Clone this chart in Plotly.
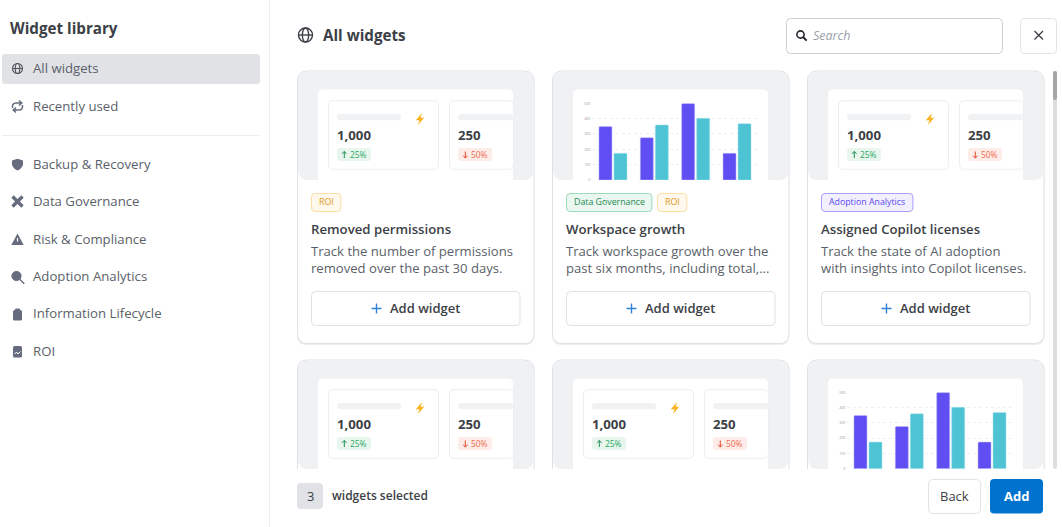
import plotly.graph_objects as go

group_x = [0, 1, 2, 3]
purple_values = [348, 276, 498, 174]
teal_values = [174, 359, 402, 367]
y_ticks = [0, 100, 200, 300, 400, 500]

nav_top = ["All widgets", "Recently used"]
nav_categories = ["Backup & Recovery", "Data Governance", "Risk & Compliance",
                  "Adoption Analytics", "Information Lifecycle", "ROI"]
card_titles = ["Removed permissions", "Workspace growth", "Assigned Copilot licenses"]
card_lines = [
    ["Track the number of permissions", "removed over the past 30 days."],
    ["Track workspace growth over the", "past six months, including total,..."],
    ["Track the state of AI adoption", "with insights into Copilot licenses."],
]
card_tags = [["ROI"], ["Data Governance", "ROI"], ["Adoption Analytics"]]
kpi_main = "1,000"
kpi_second = "250"
kpi_up = "25%"
kpi_down = "50%"

W, H = 1062, 527
FONT = "Open Sans"
TEXT = "#3c3f46"
GREY = "#5a5f69"
ICON = "#666c7e"
PURPLE = "#5F4FF2"
TEAL = "#4DC3D4"

TAG_STYLE = {
    "ROI": ("#FFF8EC", "#FBDFA6", "#DD9A1A", 29.4),
    "Data Governance": ("#EBF7F1", "#9ADBB9", "#1E8A50", 85.4),
    "Adoption Analytics": ("#F2F0FF", "#A99EFB", "#5C49F0", 91.4),
}

shapes = []
notes = []


def rrect(x0, y0, x1, y1, r=4, fill="white", line=None, lw=1):
    path = (f"M{x0+r},{y0} L{x1-r},{y0} Q{x1},{y0} {x1},{y0+r} L{x1},{y1-r} Q{x1},{y1} {x1-r},{y1} "
            f"L{x0+r},{y1} Q{x0},{y1} {x0},{y1-r} L{x0},{y0+r} Q{x0},{y0} {x0+r},{y0} Z")
    shapes.append(dict(type="path", path=path, xref="x", yref="y", layer="below",
                       fillcolor=fill, line=dict(color=line or "rgba(0,0,0,0)", width=lw if line else 0)))


def path(d, fill=None, line=None, lw=1):
    shapes.append(dict(type="path", path=d, xref="x", yref="y", layer="below",
                       fillcolor=fill or "rgba(0,0,0,0)",
                       line=dict(color=line or "rgba(0,0,0,0)", width=lw if line else 0)))


def circle(cx, cy, rx, ry=None, fill=None, line=None, lw=1):
    ry = rx if ry is None else ry
    shapes.append(dict(type="circle", x0=cx-rx, x1=cx+rx, y0=cy-ry, y1=cy+ry, xref="x", yref="y",
                       layer="below", fillcolor=fill or "rgba(0,0,0,0)",
                       line=dict(color=line or "rgba(0,0,0,0)", width=lw if line else 0)))


def text(x, y, s, size=13, color=TEXT, weight=400, anchor="left", style="normal"):
    notes.append(dict(x=x, y=y, text=s, xref="x", yref="y", showarrow=False, xanchor=anchor, yanchor="middle",
                      borderpad=0, borderwidth=0,
                      font=dict(family=FONT, size=size, color=color, weight=weight, style=style)))


def globe(cx, cy, r, color, lw):
    circle(cx, cy, r, line=color, lw=lw)
    circle(cx, cy, r * 0.45, r, line=color, lw=lw)
    path(f"M{cx-r},{cy} L{cx+r},{cy}", line=color, lw=lw)


def magnifier(cx, cy, r, color, lw, fill=None):
    circle(cx, cy, r, line=color, lw=lw, fill=fill)
    path(f"M{cx+r*0.7},{cy+r*0.7} L{cx+r*1.7},{cy+r*1.7}", line=color, lw=lw + 0.4)


def bolt(cx, cy):
    path(f"M{cx+2},{cy-6} L{cx-4.2},{cy+1.2} L{cx-0.6},{cy+1.2} L{cx-2},{cy+6} "
         f"L{cx+4.2},{cy-1.2} L{cx+0.6},{cy-1.2} Z", fill="#F9B11F")


def kpi_preview(cx, cy):
    rrect(cx+31, cy+29.7, cx+141, cy+98.3, 5, "white", "#ECEEF1")
    rrect(cx+152, cy+29.7, cx+216, cy+98.3, 5, "white", "#ECEEF1")
    rrect(cx+39.5, cy+43, cx+103.5, cy+49.3, 3, "#F1F2F4")
    rrect(cx+160.5, cy+43, cx+216, cy+49.3, 3, "#F1F2F4")
    bolt(cx+122.5, cy+48)
    rrect(cx+39.5, cy+77, cx+73.5, cy+90, 3, "#E8F6EE")
    rrect(cx+160.5, cy+77, cx+194.5, cy+90, 3, "#FDECE8")
    text(cx+39.5, cy+64, kpi_main, 13.2, TEXT, 700)
    text(cx+160.5, cy+64, kpi_second, 13.2, TEXT, 700)
    path(f"M{cx+46.8},{cy+87} L{cx+46.8},{cy+80.5} M{cx+44.6},{cy+82.8} L{cx+46.8},{cy+80.4} L{cx+49},{cy+82.8}",
         line="#1F8F55", lw=1)
    path(f"M{cx+167.8},{cy+80.5} L{cx+167.8},{cy+87} M{cx+165.6},{cy+84.7} L{cx+167.8},{cy+87.1} L{cx+170},{cy+84.7}",
         line="#E8492E", lw=1)
    text(cx+52.5, cy+83.2, kpi_up, 8.4, "#2AA864")
    text(cx+173.5, cy+83.2, kpi_down, 8.4, "#EE6A4D")


def card_frame(cx, cy):
    rrect(cx-0.5, cy+1, cx+237, cy+274, 10, "#ECEDEF")
    rrect(cx, cy, cx+236.5, cy+272.5, 10, "white", "#DFE1E6")
    rrect(cx+0.5, cy+0.5, cx+236, cy+109, 10, "#F0F1F3")
    rrect(cx+20.5, cy+18.5, cx+215.5, cy+130, 5, "white")


def card_body(cx, cy, i):
    tx = cx + 14
    for tag in card_tags[i]:
        fill, border, color, w = TAG_STYLE[tag]
        rrect(tx, cy+122.5, tx+w, cy+140.5, 3.5, fill, border)
        text(tx+w/2, cy+131.2, tag, 8.8, color, anchor="center")
        tx += w + 5.6
    text(cx+13.3, cy+158, card_titles[i], 13.2, TEXT, 600)
    text(cx+13.3, cy+180, card_lines[i][0], 13.1, GREY)
    text(cx+13.3, cy+197, card_lines[i][1], 13.1, GREY)
    rrect(cx+14, cy+220.5, cx+222.5, cy+254.5, 4, "white", "#DFE1E6")
    path(f"M{cx+74},{cy+237.5} L{cx+84},{cy+237.5} M{cx+79},{cy+232.5} L{cx+79},{cy+242.5}",
         line="#2F80D8", lw=1.4)
    text(cx+92.3, cy+236.8, "Add widget", 13, TEXT, 600)


# sidebar
path(f"M269.5,0 L269.5,{H}", line="#EFEFF1")
text(10, 28, "Widget library", 15.2, TEXT, 700)
rrect(2, 54, 260, 84, 3, "#E1E2E6")
path("M2,135.5 L260,135.5", line="#EEEEF0")
for label, y in zip(nav_top, [67.8, 105.8]):
    text(32.7, y, label, 13.2, GREY)
for label, y in zip(nav_categories, [163.8, 200.8, 238.8, 275.8, 312.8, 350.8]):
    text(32.7, y, label, 13.2, GREY)

globe(17.5, 68.5, 5, "#50545f", 1.1)
path("M12.5,108 Q12,103 16,103 L21,103 M19,100.5 L21.8,103 L19,105.5 M22.5,105 Q23,110 19,110 L14,110 "
     "M16,107.5 L13.2,110 L16,112.5", line=ICON, lw=1.5)
path("M12,160.5 L17.5,158.8 L23,160.5 L23,164.5 Q22,168.5 17.5,170.5 Q13,168.5 12,164.5 Z", fill=ICON)
path("M12.5,196.5 L22.5,206.5 M22.5,196.5 L12.5,206.5", line=ICON, lw=3.4)
path("M17.5,233.5 L23.7,245 L11.3,245 Z", fill=ICON)
path("M17.5,238 L17.5,241.5", line="white", lw=1.2)
magnifier(16.5, 276, 4.6, ICON, 1, fill=ICON)
rrect(13, 310, 22, 320.5, 1.5, ICON)
rrect(15, 308.5, 20, 312, 1, ICON)
rrect(13, 346, 22, 357.5, 1.5, ICON)
path("M14.5,354 L16.5,352 L18,354 L20.5,351.5", line="white", lw=1)

# cards
card_x = [297.5, 552.5, 807.5]
card_y = [71, 360]
for row, cy in enumerate(card_y):
    for col, cx in enumerate(card_x):
        card_frame(cx, cy)
        if row == 0:
            card_body(cx, cy, col)
kpi_preview(card_x[0], card_y[0])
kpi_preview(card_x[2], card_y[0])
kpi_preview(card_x[0], card_y[1])
kpi_preview(card_x[1], card_y[1])

# footer + header sit on top of the scrolling list
rrect(270.5, 469, W, H, 0.01, "white")
rrect(270.5, 0, W, 70, 0.01, "white")
rrect(1053, 71, 1057, 469, 2, "#DEDEDE")
rrect(1053, 71, 1057, 100, 2, "#A6A6A6")
globe(305.5, 35, 7, "#3c3f46", 1.4)
text(323, 35, "All widgets", 15.2, TEXT, 700)
rrect(786.5, 18.5, 1002.5, 53.5, 4, "white", "#CDCFD5")
magnifier(800.5, 34.5, 3.6, "#23262d", 1.6)
text(813, 35, "Search", 12.5, "#9A9EA8", style="italic")
rrect(1020.5, 18.5, 1056.5, 53.5, 4, "white", "#E3E4E8")
path("M1034.5,31 L1043,39.5 M1043,31 L1034.5,39.5", line="#3c3f46", lw=1.3)

rrect(297, 483, 323, 509, 4, "#E1E2E6")
text(310, 496, "3", 13, TEXT, anchor="center")
text(332, 495.5, "widgets selected", 12, TEXT, 600)
rrect(928.5, 479.5, 980.5, 513.5, 4, "white", "#E2E3E6")
text(954.5, 495.5, "Back", 13, TEXT, 500, anchor="center")
rrect(990, 479, 1043, 513.5, 4, "#0073CF")
text(1016.5, 495.5, "Add", 13, "white", 700, anchor="center")

fig = go.Figure()
# empty trace so the pixel-space axes exist for shapes and text
fig.add_trace(go.Scatter(x=[], y=[], xaxis="x", yaxis="y", hoverinfo="skip", showlegend=False))

base_axis = dict(visible=False, fixedrange=True, automargin=False)
layout_axes = dict(
    xaxis=dict(range=[0, W], domain=[0, 1], **base_axis),
    yaxis=dict(range=[H, 0], domain=[0, 1], **base_axis),
)

# the two small bar previews, (left px, right px, zero px, top px)
previews = [(592.3, 757.7, 180, 103.3), (847.3, 1012.7, 468.7, 392.3)]
for n, (x0, x1, y0, y1) in enumerate(previews, start=2):
    xa, ya = f"x{n}", f"y{n}"
    for values, colour, edge in [(purple_values, PURPLE, "#BDB6FA"), (teal_values, TEAL, "#A6E2EA")]:
        fig.add_trace(go.Bar(x=group_x, y=values, xaxis=xa, yaxis=ya, showlegend=False, hoverinfo="skip",
                             marker=dict(color=colour, cornerradius=1, line=dict(color=edge, width=0.5))))
    layout_axes[f"xaxis{n}"] = dict(domain=[x0 / W, x1 / W], range=[-0.5, 3.5], anchor=ya, showticklabels=False,
                                    showgrid=False, zeroline=False, ticks="", fixedrange=True, automargin=False)
    layout_axes[f"yaxis{n}"] = dict(domain=[1 - y0 / H, 1 - y1 / H], range=[0, 500], anchor=xa, tickvals=y_ticks,
                                    tickfont=dict(family=FONT, size=3.6, color="#9a9a9a"), ticks="",
                                    gridcolor="#EDEEF0", griddash="dot", gridwidth=1, zeroline=False,
                                    showline=False, fixedrange=True, ticklabelstandoff=1, automargin=False)

fig.update_layout(
    template="none",
    width=W, height=H, margin=dict(l=0, r=0, t=0, b=0), autosize=False,
    paper_bgcolor="white", plot_bgcolor="rgba(0,0,0,0)",
    barmode="group", bargap=0.274, bargroupgap=0.133,
    shapes=shapes, annotations=notes, **layout_axes,
)

fig.write_html("out.html", config=dict(displayModeBar=False),
               post_script="document.body.style.margin='0';document.body.style.overflow='hidden';")
